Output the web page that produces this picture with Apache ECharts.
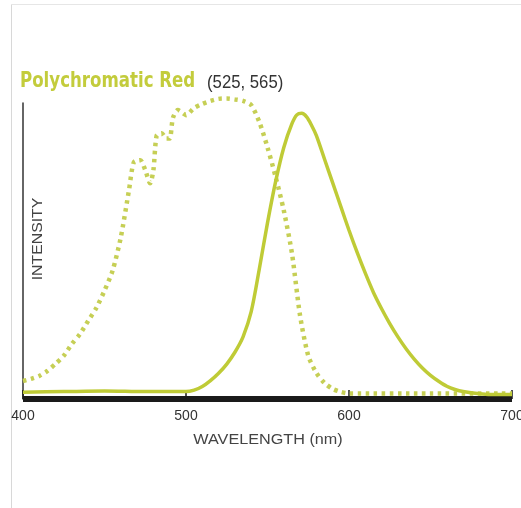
<!DOCTYPE html>
<html>
<head>
<meta charset="utf-8">
<script src="https://cdn.jsdelivr.net/npm/echarts@6/dist/echarts.min.js"></script>
<style>html,body{margin:0;padding:0;background:#fff}#c{width:521px;height:508px}</style>
</head>
<body>
<div id="c"></div>
<script>
var titleText = 'Polychromatic Red';
var subText = '(525, 565)';
var xName = 'WAVELENGTH (nm)';
var yName = 'INTENSITY';
var xTicks = [400, 500, 600, 700];

// Emission (solid)
var emWave = [400,425,450,475,500,505,510,515,520,525,530,535,540,545,550,555,560,565,568,571,574,577,580,585,590,595,600,605,610,615,620,625,630,635,640,645,650,655,660,665,670,680,690,700];
var emVal  = [2.3,2.5,2.7,2.5,2.5,3.0,4.2,6.2,8.7,11.8,15.8,21,29.5,44,59.5,73.5,85,93,96,96.5,95.3,92.5,89,81,73,65,57,49.5,42.5,36,30.5,25.5,21,17,13.5,10.5,8,6,4.3,3.2,2.5,1.8,1.5,1.5];

// Excitation (dotted)
var exWave = [400,405,410,415,420,425,430,435,440,445,450,455,460,465,468,472,475,478,480,482,485,488,490,492,495,498,500,505,510,515,520,525,530,535,540,545,550,555,560,565,570,575,580,585,590,595,600,650,700];
var exVal  = [6.1,6.8,7.8,9.5,11.9,14.6,18.6,22,26.4,30.8,36.6,43.4,54.6,70.5,80,80.7,77.3,72.9,77.3,89,89.8,88,88,95,97.6,96.6,95.9,98.3,99.7,100.7,101.4,101.5,101.2,100.7,99.3,93.6,85,75,63.7,49.2,28.1,14.6,8.8,5.4,3.4,2.4,1.9,1.9,1.9];

function pairs(xs, ys){ return xs.map(function(x,i){return [x, ys[i]];}); }

var chart = echarts.init(document.getElementById('c'), null, {renderer:'canvas'});
chart.setOption({
  animation:false,
  backgroundColor:'#fff',
  grid:{left:23, right:9, top:103, bottom:109, outerBoundsMode:'none', containLabel:false},
  xAxis:{
    type:'value', min:400, max:700, interval:100,
    axisLine:{show:true, onZero:false, lineStyle:{color:'#1a1a1a', width:6, cap:'butt'}},
    axisTick:{show:true, inside:true, length:9, lineStyle:{color:'#1a1a1a', width:1.5}},
    axisLabel:{color:'#333', fontSize:14, fontFamily:'"Liberation Sans", Arial', margin:10,
      formatter:function(v){return xTicks.indexOf(v)>=0 ? String(v) : '';}},
    splitLine:{show:false}
  },
  yAxis:{
    type:'value', min:0, max:100,
    axisLine:{show:true, lineStyle:{color:'#333', width:1.5}},
    axisTick:{show:false}, axisLabel:{show:false}, splitLine:{show:false}
  },
  graphic:[
    {type:'line', shape:{x1:11.5,y1:4,x2:11.5,y2:508}, style:{stroke:'#d8d8d8', lineWidth:1}, silent:true},
    {type:'line', shape:{x1:11,y1:4.5,x2:521,y2:4.5}, style:{stroke:'#e6e6e6', lineWidth:1}, silent:true},
    {type:'text', x:20, y:82, scaleX:0.88, style:{text:titleText, fill:'#c3cc3c', font:'bold 21px "DejaVu Sans Condensed", "Liberation Sans", Arial', verticalAlign:'middle'}},
    {type:'text', x:207, y:83, scaleX:0.93, style:{text:subText, fill:'#333', font:'18px "Liberation Sans", Arial', verticalAlign:'middle'}},
    {type:'text', x:268, y:440, scaleX:1.08, style:{text:xName, fill:'#444', font:'15px "Liberation Sans", Arial', align:'center', verticalAlign:'middle'}},
    {type:'text', x:38, y:239, rotation:Math.PI/2, scaleX:1.13, style:{text:yName, fill:'#444', font:'14px "Liberation Sans", Arial', align:'center', verticalAlign:'middle'}}
  ],
  series:[
    {type:'line', data:pairs(exWave, exVal), smooth:0.25, symbol:'none', clip:false,
     lineStyle:{color:'#c6cf55', width:4.5, type:[3.5,4.5], cap:'butt'}, z:2},
    {type:'line', data:pairs(emWave, emVal), smooth:0.3, symbol:'none', clip:false,
     lineStyle:{color:'#bfcb36', width:3.5}, z:3}
  ]
});
</script>
</body>
</html>
